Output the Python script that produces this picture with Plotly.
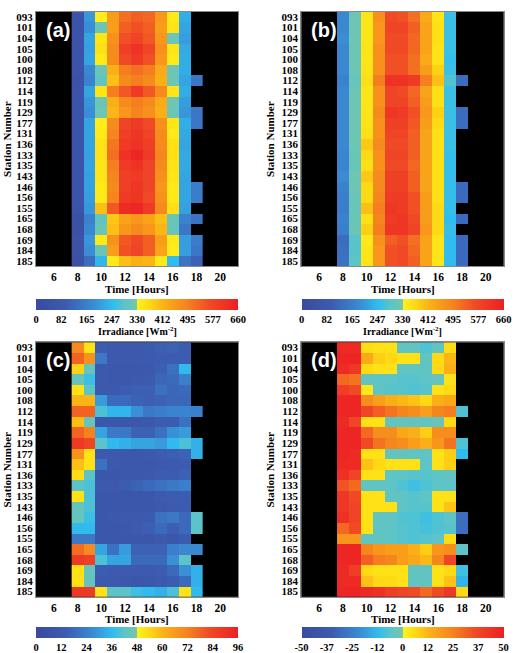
import numpy as np
import plotly.graph_objects as go

N = None
stations = ["093","101","104","105","100","108","112","114","119","129","177","131",
            "136","133","135","143","146","156","155","165","168","169","184","185"]
hours = [8, 9, 10, 11, 12, 13, 14, 15, 16, 17, 18]

# (a) measured irradiance
irr_a = [
 [50,200,340,450,520,540,530,460,345,230,N],
 [50,190,310,450,540,560,540,450,350,220,N],
 [50,220,350,470,560,580,550,460,315,210,N],
 [55,215,360,480,590,620,580,470,350,225,N],
 [50,220,345,480,570,600,560,460,345,230,N],
 [50,180,310,420,500,520,500,430,315,230,N],
 [45,170,300,400,480,500,480,420,315,220,150],
 [50,220,350,500,550,600,550,480,350,230,N],
 [50,200,310,420,480,500,480,430,315,210,N],
 [50,190,315,410,460,490,470,420,315,200,150],
 [50,220,340,480,580,600,570,470,350,230,150],
 [50,220,345,490,590,610,580,480,345,225,N],
 [50,220,355,510,600,620,590,480,360,220,N],
 [50,215,355,520,620,640,600,490,360,225,N],
 [50,220,350,500,600,620,580,480,355,225,N],
 [50,215,350,490,590,600,580,470,350,220,N],
 [50,215,345,480,590,610,580,460,345,220,160],
 [50,210,345,490,600,610,570,470,345,220,160],
 [55,200,400,550,630,640,600,480,360,215,N],
 [40,170,300,390,440,460,440,400,310,170,140],
 [40,180,310,400,460,480,460,410,310,150,N],
 [45,200,345,470,550,570,540,450,345,210,160],
 [45,190,310,450,560,580,540,440,340,210,150],
 [40,130,240,345,400,420,410,345,250,140,110],
]
# (b) modelled irradiance
irr_b = [
 [180,315,350,470,570,560,520,430,350,260,N],
 [180,315,350,460,580,580,540,440,360,260,N],
 [190,315,350,460,570,570,530,440,360,260,N],
 [180,315,355,470,570,570,530,440,355,260,N],
 [180,315,350,470,560,560,520,430,355,255,N],
 [180,315,355,470,560,560,520,450,380,260,N],
 [170,305,360,500,620,620,600,500,400,280,130],
 [180,315,350,470,580,570,530,440,360,260,N],
 [180,315,350,470,580,580,540,450,360,260,N],
 [180,315,355,480,610,600,560,460,380,260,130],
 [180,315,355,470,590,590,550,450,370,260,130],
 [180,315,360,470,580,580,540,440,360,260,N],
 [180,315,390,480,570,570,540,440,360,260,N],
 [175,310,370,470,580,580,540,440,360,255,N],
 [175,310,360,470,570,570,530,440,360,255,N],
 [185,315,390,480,590,590,540,440,360,255,N],
 [170,315,370,480,590,590,540,440,360,255,125],
 [165,310,370,490,600,600,560,450,360,255,125],
 [160,310,400,500,610,600,560,450,370,255,N],
 [170,310,360,490,600,610,570,450,370,250,125],
 [165,310,380,500,610,610,580,460,370,255,N],
 [130,285,345,470,540,560,520,440,350,250,125],
 [135,285,350,460,560,570,530,440,350,250,125],
 [140,290,350,460,560,570,540,440,350,250,125],
]
# (c) error
err_c = [
 [70,52,14,12,12,12,13,15,16,14,N],
 [78,68,22,12,12,12,13,14,14,14,N],
 [55,44,12,11,11,11,12,15,20,36,N],
 [44,38,12,11,11,12,13,17,18,24,N],
 [52,42,12,12,14,15,15,20,17,18,N],
 [60,60,30,18,18,16,15,16,17,17,N],
 [78,78,40,35,35,28,22,24,25,25,24],
 [58,44,10,10,10,10,11,14,14,20,N],
 [78,72,32,22,22,16,16,20,28,30,N],
 [88,84,42,36,34,32,32,30,36,40,34],
 [68,52,12,12,11,11,12,14,15,16,34],
 [58,52,20,12,11,11,11,12,13,14,N],
 [53,42,10,10,11,11,12,14,14,16,N],
 [42,40,12,12,14,16,18,20,22,24,N],
 [52,40,10,10,10,10,10,13,14,14,N],
 [44,40,10,10,10,10,10,11,13,13,N],
 [44,38,10,11,12,12,13,20,22,18,42],
 [36,36,10,10,11,13,15,18,15,18,42],
 [22,22,10,10,10,10,10,12,10,14,N],
 [76,70,32,20,30,16,16,16,24,26,26],
 [88,86,40,32,32,18,18,18,28,42,N],
 [52,44,14,13,13,13,13,14,18,28,34],
 [52,44,12,12,11,10,11,12,14,18,34],
 [88,88,52,42,42,38,36,34,40,52,36],
]
# (d) bias
bias_d = [
 [46,46,5,4,4,-5,-5,-8,-5,5,N],
 [48,48,15,8,6,4,4,-5,6,12,N],
 [46,42,6,4,4,-5,-5,-5,6,14,N],
 [30,28,-5,-6,-6,-7,-7,-6,-4,4,N],
 [40,36,3,-6,-7,-7,-8,-7,4,6,N],
 [48,48,22,18,14,12,10,6,14,16,N],
 [48,48,38,32,28,24,22,18,24,26,-8],
 [46,38,4,4,-5,-5,-5,-6,-4,6,N],
 [48,48,30,22,22,16,14,8,22,22,N],
 [48,48,36,28,24,22,18,14,20,28,-8],
 [48,46,4,4,-5,-5,-6,-6,4,8,-12],
 [46,46,10,6,4,4,4,-6,4,8,N],
 [44,38,4,4,-6,-6,-7,-7,-6,-5,N],
 [34,30,-5,-6,-6,-8,-10,-8,-6,-6,N],
 [42,36,4,4,-5,-6,-7,-6,4,4,N],
 [42,38,4,4,4,-6,-7,-7,4,10,N],
 [44,38,4,-5,-6,-8,-8,-10,-8,-6,-30],
 [30,36,4,-6,-6,-7,-8,-9,-8,-7,-30],
 [20,20,-5,-5,-6,-7,-8,-7,-6,5,N],
 [48,48,24,20,18,18,14,8,20,22,-6],
 [48,48,32,26,24,18,16,12,24,38,N],
 [46,40,6,4,4,4,-5,-5,4,6,-10],
 [46,46,10,6,6,4,-5,-5,4,10,-14],
 [48,48,46,44,40,38,36,30,36,42,6],
]

x_ticks = [6, 8, 10, 12, 14, 16, 18, 20]
cb_ab_vals = [0, 82.5, 165, 247.5, 330, 412.5, 495, 577.5, 660]
cb_ab_text = ["0", "82", "165", "247", "330", "412", "495", "577", "660"]
cb_c_vals = [0, 12, 24, 36, 48, 60, 72, 84, 96]
cb_c_text = [str(v) for v in cb_c_vals]
cb_d_vals = [-50, -37.5, -25, -12.5, 0, 12.5, 25, 37.5, 50]
cb_d_text = ["-50", "-37", "-25", "-12", "0", "12", "25", "37", "50"]

cscale = [
    [0.0, "#3a4a9f"], [0.15, "#3c5cb1"], [0.28, "#3a8ad4"], [0.38, "#30bdee"],
    [0.44, "#5ec4c6"], [0.4999, "#74c6aa"], [0.5, "#fff21c"], [0.56, "#ffd914"],
    [0.625, "#fbb416"], [0.75, "#f5821f"], [0.86, "#f04a25"], [1.0, "#ec1f24"],
]

W, H = 517, 653
SERIF = "Liberation Serif"
tickfont = dict(family=SERIF, size=11.5, color="black", weight="bold")
titlefont = dict(family=SERIF, size=11, color="black", weight="bold")

panels = [
    (irr_a, 0, 660, cb_ab_vals, cb_ab_text, "Irradiance [Wm<sup>-2</sup>]", "(a)", 36, 238, 10.7, 266, 299, 7),
    (irr_b, 0, 660, cb_ab_vals, cb_ab_text, "Irradiance [Wm<sup>-2</sup>]", "(b)", 301.3, 503.7, 10.7, 266, 299, 270),
    (err_c, 0, 96, cb_c_vals, cb_c_text, "", "(c)", 36, 238, 342.3, 597.7, 628, 7),
    (bias_d, -50, 50, cb_d_vals, cb_d_text, "", "(d)", 301.3, 503.7, 342.3, 597.7, 628, 270),
]

fig = go.Figure()
layout = dict(width=W, height=H, margin=dict(l=0, r=0, t=0, b=0),
              paper_bgcolor="white", showlegend=False, annotations=[])
for i, (z, zmin, zmax, cbv, cbt, cbtitle, lab, L, R, T, B, cbtop, ytx) in enumerate(panels):
    n = "" if i == 0 else str(i + 1)
    cb = dict(orientation="h", x=(L + R) / 2 / W, xanchor="center",
              y=1 - cbtop / H, yanchor="top", len=R - L, lenmode="pixels",
              thickness=11, thicknessmode="pixels", xpad=0, ypad=0,
              outlinewidth=0, ticks="", tickvals=cbv, ticktext=cbt,
              tickfont=dict(family=SERIF, size=10.5, color="black", weight="bold"))
    fig.add_trace(go.Heatmap(
        z=z, x=hours, y=stations, zmin=zmin, zmax=zmax, colorscale=cscale,
        colorbar=cb, xaxis="x" + n, yaxis="y" + n, hoverongaps=False))
    layout["xaxis" + n] = dict(
        domain=[L / W, R / W], anchor="y" + n, range=[4.5, 21.5],
        tickvals=x_ticks, ticks="", showgrid=False, zeroline=False,
        showline=True, linecolor="#888888", linewidth=1, mirror=True,
        tickfont=tickfont)
    layout["yaxis" + n] = dict(
        domain=[1 - B / H, 1 - T / H], anchor="x" + n, type="category",
        categoryorder="array", categoryarray=stations, autorange="reversed",
        ticks="", showgrid=False, zeroline=False, tickmode="array",
        tickvals=stations, ticktext=stations,
        showline=True, linecolor="#888888", linewidth=1, mirror=True,
        tickfont=dict(family=SERIF, size=11, color="black", weight="bold"))
    ann = layout["annotations"]
    ann.append(dict(text="Time [Hours]", xref="paper", yref="paper",
                    x=(L + R) / 2 / W, y=1 - (B + 22.5) / H, xanchor="center",
                    yanchor="middle", showarrow=False, font=titlefont))
    ann.append(dict(text="Station Number", xref="paper", yref="paper",
                    x=ytx / W, y=1 - (T + B) / 2 / H, xanchor="center",
                    yanchor="middle", textangle=-90, showarrow=False, font=titlefont))
    if cbtitle:
        ann.append(dict(text=cbtitle, xref="paper", yref="paper",
                        x=(L + R) / 2 / W, y=1 - 331 / H, xanchor="center",
                        yanchor="middle", showarrow=False,
                        font=dict(family=SERIF, size=10, color="black", weight="bold")))
    ann.append(dict(
        text=lab, xref="paper", yref="paper", x=(L + 8) / W, y=1 - (T + 5) / H,
        xanchor="left", yanchor="top", showarrow=False,
        font=dict(family="Liberation Sans", size=20, color="white", weight="bold")))

fig.update_layout(**layout)
fig.update_layout(plot_bgcolor="black")
fig.write_html("out.html")
